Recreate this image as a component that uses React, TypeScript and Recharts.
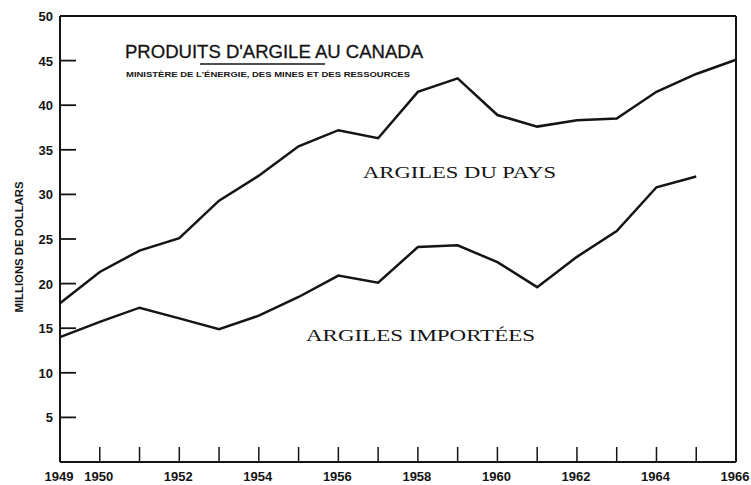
import React from 'react';
import {
  LineChart,
  Line,
  XAxis,
  YAxis,
  ReferenceLine,
} from 'recharts';

const years = [
  1949, 1950, 1951, 1952, 1953, 1954, 1955, 1956, 1957, 1958, 1959, 1960,
  1961, 1962, 1963, 1964, 1965, 1966,
];
// argiles du pays (upper line), millions de dollars
const domestic = [
  17.8, 21.3, 23.7, 25.1, 29.3, 32.1, 35.4, 37.2, 36.3, 41.5, 43.0, 38.9,
  37.6, 38.3, 38.5, 41.5, 43.5, 45.1,
];
// argiles importées (lower line), ends in 1965
const imported = [
  14.0, 15.7, 17.3, 16.1, 14.9, 16.4, 18.5, 20.9, 20.1, 24.1, 24.3, 22.4,
  19.6, 23.0, 25.9, 30.8, 32.0, null,
];
const yearLabels = [1949, 1950, 1952, 1954, 1956, 1958, 1960, 1962, 1964, 1966];
const yTicks = [0, 5, 10, 15, 20, 25, 30, 35, 40, 45, 50];

const data = years.map((year, i) => ({
  year,
  domestic: domestic[i],
  imported: imported[i],
}));

const INK = '#141414';
const tickFont = {
  fontFamily: '"Liberation Sans", Arial, sans-serif',
  fontWeight: 700,
  fontSize: 13,
  fill: INK,
};

const YearTick = (props: any) => {
  const { x, y, payload } = props;
  const v = payload.value;
  return (
    <g>
      {v > 1949 && v < 1966 && (
        <line x1={x} x2={x} y1={y} y2={y - 15} stroke={INK} strokeWidth={1.5} />
      )}
      {yearLabels.includes(v) && (
        <text x={x - 1} y={y + 19} textAnchor="middle" {...tickFont}>
          {v}
        </text>
      )}
    </g>
  );
};

const LeftTick = (props: any) => {
  const { x, y, payload } = props;
  const v = payload.value;
  if (v === 0) return null;
  return (
    <g>
      {v < 50 && (
        <line x1={x} x2={x + 16} y1={y} y2={y} stroke={INK} strokeWidth={1.8} />
      )}
      <text x={x - 7} y={y + 5} textAnchor="end" {...tickFont}>
        {v}
      </text>
    </g>
  );
};

const RightTick = (props: any) => {
  const { x, y, payload } = props;
  const v = payload.value;
  if (v === 0 || v === 50) return null;
  return <line x1={x - 20} x2={x} y1={y} y2={y} stroke={INK} strokeWidth={1.8} />;
};

export default function App() {
  return (
    <div
      style={{
        position: 'absolute',
        left: 0,
        top: 0,
        width: 751,
        height: 485,
        background: '#fff',
      }}
    >
      <LineChart
        width={751}
        height={485}
        data={data}
        margin={{ top: 16, right: 0, left: 0, bottom: 0 }}
      >
        <XAxis
          dataKey="year"
          type="number"
          domain={[1949, 1966]}
          ticks={years}
          height={23}
          tickSize={0}
          tickMargin={0}
          tickLine={false}
          axisLine={{ stroke: INK, strokeWidth: 2 }}
          tick={<YearTick />}
          interval={0}
        />
        <YAxis
          yAxisId="left"
          domain={[0, 50]}
          ticks={yTicks}
          width={60}
          tickSize={0}
          tickMargin={0}
          tickLine={false}
          axisLine={{ stroke: INK, strokeWidth: 2 }}
          tick={<LeftTick />}
          interval={0}
        />
        <YAxis
          yAxisId="right"
          orientation="right"
          domain={[0, 50]}
          ticks={yTicks}
          width={15}
          tickSize={0}
          tickMargin={0}
          tickLine={false}
          axisLine={{ stroke: INK, strokeWidth: 2 }}
          tick={<RightTick />}
          interval={0}
        />
        <ReferenceLine yAxisId="left" y={50} stroke={INK} strokeWidth={2} />
        <Line
          yAxisId="left"
          type="linear"
          dataKey="domestic"
          stroke={INK}
          strokeWidth={2.5}
          dot={false}
          isAnimationActive={false}
        />
        <Line
          yAxisId="left"
          type="linear"
          dataKey="imported"
          stroke={INK}
          strokeWidth={2.5}
          dot={false}
          connectNulls={false}
          isAnimationActive={false}
        />
      </LineChart>
      <svg
        width={751}
        height={485}
        style={{ position: 'absolute', left: 0, top: 0, pointerEvents: 'none' }}
      >
        <text
          x={125}
          y={58}
          textLength={298}
          lengthAdjust="spacingAndGlyphs"
          fontFamily='"Liberation Sans", Arial, sans-serif'
          fontSize={18}
          stroke={INK}
          strokeWidth={0.3}
          fill={INK}
        >
          PRODUITS D'ARGILE AU CANADA
        </text>
        <line x1={200} x2={325} y1={64} y2={64} stroke={INK} strokeWidth={1.5} />
        <text
          x={126}
          y={77}
          textLength={284}
          lengthAdjust="spacingAndGlyphs"
          fontFamily='"Liberation Sans", Arial, sans-serif'
          fontWeight={700}
          fontSize={8}
          fill={INK}
        >
          MINISTÈRE DE L'ÉNERGIE, DES MINES ET DES RESSOURCES
        </text>
        <text
          x={363}
          y={178}
          textLength={193}
          lengthAdjust="spacingAndGlyphs"
          fontFamily='"Liberation Serif", "Times New Roman", serif'
          fontSize={17}
          fill={INK}
        >
          ARGILES DU PAYS
        </text>
        <text
          x={306}
          y={341}
          textLength={229}
          lengthAdjust="spacingAndGlyphs"
          fontFamily='"Liberation Serif", "Times New Roman", serif'
          fontSize={17}
          fill={INK}
        >
          ARGILES IMPORTÉES
        </text>
        <text
          x={0}
          y={0}
          transform="translate(23, 247) rotate(-90)"
          textAnchor="middle"
          textLength={131}
          lengthAdjust="spacingAndGlyphs"
          fontFamily='"Liberation Sans", Arial, sans-serif'
          fontWeight={700}
          fontSize={10}
          fill={INK}
        >
          MILLIONS DE DOLLARS
        </text>
      </svg>
    </div>
  );
}
